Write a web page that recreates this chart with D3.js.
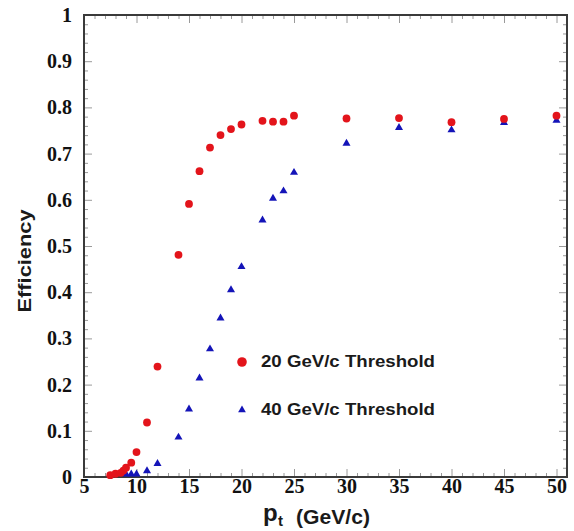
<!DOCTYPE html>
<html>
<head>
<meta charset="utf-8">
<script src="https://cdn.jsdelivr.net/npm/d3@7"></script>
<style>
  html, body { margin: 0; padding: 0; background: #fff; }
  svg { display: block; }
</style>
</head>
<body>
<svg id="chart" width="574" height="531"></svg>
<script>
// Trigger efficiency versus transverse momentum for two thresholds
const ptRed  = [7.5, 8, 8.5, 8.75, 9, 9.5, 10, 11, 12, 14, 15, 16, 17, 18, 19, 20, 22, 23, 24, 25, 30, 35, 40, 45, 50];
const effRed = [0.004, 0.007, 0.009, 0.014, 0.02, 0.031, 0.054, 0.118, 0.239, 0.481, 0.591, 0.662, 0.713, 0.740, 0.753, 0.763, 0.771, 0.769, 0.769, 0.782, 0.776, 0.777, 0.768, 0.775, 0.782];

const ptBlue  = [9, 9.5, 10, 11, 12, 14, 15, 16, 17, 18, 19, 20, 22, 23, 24, 25, 30, 35, 40, 45, 50];
const effBlue = [0.006, 0.006, 0.006, 0.013, 0.029, 0.086, 0.147, 0.214, 0.277, 0.344, 0.405, 0.455, 0.556, 0.603, 0.619, 0.659, 0.722, 0.756, 0.751, 0.767, 0.772];

const xTicks = [5, 10, 15, 20, 25, 30, 35, 40, 45, 50];
const yTicks = [0, 0.1, 0.2, 0.3, 0.4, 0.5, 0.6, 0.7, 0.8, 0.9, 1];
const yTickLabels = ["0", "0.1", "0.2", "0.3", "0.4", "0.5", "0.6", "0.7", "0.8", "0.9", "1"];

const legendLabels = ["20 GeV/c Threshold", "40 GeV/c Threshold"];
const redColor = "#e3141b";
const blueColor = "#1414b8";

const svg = d3.select("#chart");
const plotLeft = 84, plotRight = 567, plotTop = 15, plotBottom = 477;

const x = d3.scaleLinear().domain([5, 51]).range([plotLeft, plotRight]);
const y = d3.scaleLinear().domain([0, 1]).range([plotBottom, plotTop]);

const xMinor = d3.range(5, 52, 1).filter(v => v % 5 !== 0);
const yMinor = d3.range(0, 1.001, 0.02).filter(v => Math.abs(v * 10 - Math.round(v * 10)) > 1e-6);

const tickColor = "#9a9a9a";

function styleAxis(g) {
  g.select(".domain").remove();
  g.selectAll(".tick line").attr("stroke", tickColor).attr("stroke-width", 1);
}

// minor ticks on all four sides
svg.append("g").attr("transform", `translate(0,${plotBottom})`)
  .call(d3.axisBottom(x).tickValues(xMinor).tickSize(-4).tickFormat(""))
  .call(styleAxis);
svg.append("g").attr("transform", `translate(0,${plotTop})`)
  .call(d3.axisTop(x).tickValues(xMinor).tickSize(-4).tickFormat(""))
  .call(styleAxis);
svg.append("g").attr("transform", `translate(${plotLeft},0)`)
  .call(d3.axisLeft(y).tickValues(yMinor).tickSize(-4).tickFormat(""))
  .call(styleAxis);
svg.append("g").attr("transform", `translate(${plotRight},0)`)
  .call(d3.axisRight(y).tickValues(yMinor).tickSize(-4).tickFormat(""))
  .call(styleAxis);

// major ticks with labels
const xAxis = svg.append("g").attr("transform", `translate(0,${plotBottom})`)
  .call(d3.axisBottom(x).tickValues(xTicks).tickSize(-8).tickPadding(2).tickFormat(d3.format("d")))
  .call(styleAxis);
xAxis.selectAll("text")
  .attr("font-family", "'Liberation Serif', 'Times New Roman', serif")
  .attr("font-weight", "bold").attr("font-size", 20).attr("fill", "#111");

const yAxis = svg.append("g").attr("transform", `translate(${plotLeft},0)`)
  .call(d3.axisLeft(y).tickValues(yTicks).tickSize(-8).tickPadding(12).tickFormat((d, i) => yTickLabels[i]))
  .call(styleAxis);
yAxis.selectAll("text")
  .attr("font-family", "'Liberation Serif', 'Times New Roman', serif")
  .attr("font-weight", "bold").attr("font-size", 20).attr("fill", "#111");

svg.append("g").attr("transform", `translate(0,${plotTop})`)
  .call(d3.axisTop(x).tickValues(xTicks).tickSize(-8).tickFormat(""))
  .call(styleAxis);
svg.append("g").attr("transform", `translate(${plotRight},0)`)
  .call(d3.axisRight(y).tickValues(yTicks).tickSize(-8).tickFormat(""))
  .call(styleAxis);

// plot frame
svg.append("rect")
  .attr("x", plotLeft).attr("y", plotTop)
  .attr("width", plotRight - plotLeft).attr("height", plotBottom - plotTop)
  .attr("fill", "none").attr("stroke", "#3a3a3a").attr("stroke-width", 2);

// data markers
const redData = ptRed.map((p, i) => ({ p, e: effRed[i] }));
const blueData = ptBlue.map((p, i) => ({ p, e: effBlue[i] }));

const tri = d3.symbol().type(d3.symbolTriangle).size(28);

svg.append("g").selectAll("path")
  .data(blueData).join("path")
  .attr("d", tri)
  .attr("transform", d => `translate(${x(d.p)},${y(d.e)})`)
  .attr("fill", blueColor);

svg.append("g").selectAll("circle")
  .data(redData).join("circle")
  .attr("cx", d => x(d.p)).attr("cy", d => y(d.e))
  .attr("r", 3.9)
  .attr("fill", redColor);

// legend
const sans = "'Liberation Sans', Arial, Helvetica, sans-serif";
const legend = svg.append("g");
legend.append("circle").attr("cx", 242).attr("cy", 362).attr("r", 4.8).attr("fill", redColor);
legend.append("path").attr("d", d3.symbol().type(d3.symbolTriangle).size(26)())
  .attr("transform", "translate(242,410)").attr("fill", blueColor);
legend.selectAll("text")
  .data(legendLabels).join("text")
  .attr("x", 261).attr("y", (d, i) => 367 + i * 48)
  .attr("font-family", sans).attr("font-weight", "bold").attr("font-size", 16)
  .attr("textLength", 174).attr("lengthAdjust", "spacingAndGlyphs")
  .attr("fill", "#1a1a1a")
  .text(d => d);

// axis titles
const xTitle = svg.append("g").attr("font-family", sans).attr("font-weight", "bold").attr("fill", "#1a1a1a");
xTitle.append("text").attr("x", 263).attr("y", 521).attr("font-size", 24).text("p");
xTitle.append("text").attr("x", 278).attr("y", 526).attr("font-size", 15).text("t");
xTitle.append("text").attr("x", 296).attr("y", 524).attr("font-size", 20)
  .attr("textLength", 74).attr("lengthAdjust", "spacingAndGlyphs").text("(GeV/c)");

svg.append("text")
  .attr("transform", "translate(31,261) rotate(-90)")
  .attr("text-anchor", "middle")
  .attr("font-family", sans).attr("font-weight", "bold").attr("font-size", 18)
  .attr("textLength", 103).attr("lengthAdjust", "spacingAndGlyphs")
  .attr("fill", "#1a1a1a")
  .text("Efficiency");
</script>
</body>
</html>
